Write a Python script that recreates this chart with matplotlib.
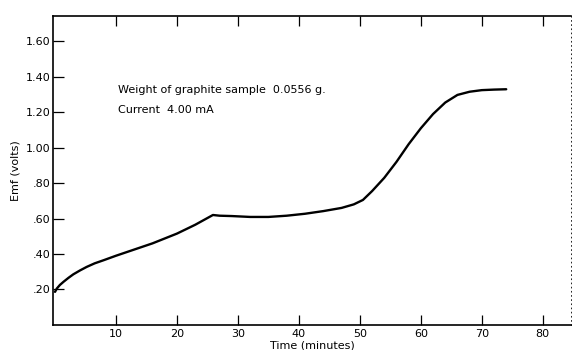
import matplotlib
matplotlib.use("Agg")
import matplotlib.pyplot as plt

# readings taken off the original curve
time_min = [0, 0.3, 0.8, 1.4, 2.2, 3.0, 4.1, 5.2, 6.5, 8, 10, 13, 16, 20, 23,
            25.9, 27, 29, 32, 35, 38, 41, 44, 47, 49, 50.5, 52, 54, 56, 58,
            60, 62, 64, 66, 68, 70, 72, 74]
emf_volts = [0.186, 0.205, 0.225, 0.243, 0.265, 0.285, 0.307, 0.327, 0.347,
             0.365, 0.39, 0.425, 0.46, 0.515, 0.565, 0.62, 0.616, 0.614,
             0.609, 0.609, 0.616, 0.627, 0.642, 0.66, 0.68, 0.705, 0.755,
             0.83, 0.92, 1.02, 1.11, 1.19, 1.255, 1.298, 1.316, 1.325, 1.328,
             1.33]

x_ticks = [10, 20, 30, 40, 50, 60, 70, 80]
y_ticks = [0.2, 0.4, 0.6, 0.8, 1.0, 1.2, 1.4, 1.6]
y_labels = [".20", ".40", ".60", ".80", "1.00", "1.20", "1.40", "1.60"]

fig = plt.figure(figsize=(5.72, 3.5), dpi=100)
ax = fig.add_axes([0.093, 0.072, 0.905, 0.883])

ax.plot(time_min, emf_volts, color="black", lw=1.7, solid_joinstyle="round",
        solid_capstyle="round")

ax.set_xlim(-0.3, 84.6)
ax.set_ylim(0, 1.745)
ax.set_xticks(x_ticks)
ax.set_xticklabels([str(t) for t in x_ticks])
ax.set_yticks(y_ticks)
ax.set_yticklabels(y_labels)
ax.tick_params(axis="x", direction="in", length=7, width=0.9, labelsize=8,
               top=True, pad=3)
ax.tick_params(axis="y", direction="in", length=8, width=0.9, labelsize=8,
               pad=2)

for side in ["left", "bottom", "top"]:
    ax.spines[side].set_linewidth(1.2)
ax.spines["right"].set_linewidth(0.6)
ax.spines["right"].set_linestyle((0, (1, 4)))

ax.set_xlabel("Time (minutes)", fontsize=8, labelpad=1)
ax.set_ylabel("Emf (volts)", fontsize=8, labelpad=4)

ax.text(10.4, 1.326, "Weight of graphite sample  0.0556 g.", fontsize=8,
        va="center")
ax.text(10.4, 1.213, "Current  4.00 mA", fontsize=8, va="center")

plt.savefig("out.png", dpi=100)
